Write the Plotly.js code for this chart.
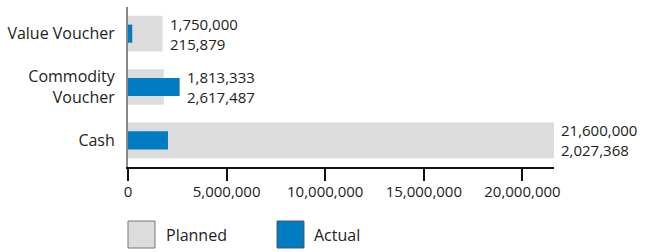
<!DOCTYPE html>
<html><head><meta charset="utf-8">
<script src="https://cdn.plot.ly/plotly-3.0.1.min.js"></script>
<style>html,body{margin:0;padding:0;background:#fff}#chart{width:645px;height:252px}</style>
</head><body><div id="chart"></div>
<script>
const categories = ["Value Voucher", "Commodity Voucher", "Cash"];
const categoryLabels = ["Value Voucher", "Commodity<br>Voucher", "Cash"];
const planned = [1750000, 1813333, 21600000];
const actual = [215879, 2617487, 2027368];
const tickVals = [0, 5000000, 10000000, 15000000, 20000000];
const tickText = ["0", "5,000,000", "10,000,000", "15,000,000", "20,000,000"];

const fmt = v => v.toLocaleString('en-US');
const FONT = "Open Sans, Noto Sans, sans-serif";
const GREY = "#dcdcdc", BLUE = "#007cc2";

const traces = [
  {type:'bar', orientation:'h', y:categories, x:planned, width:0.67,
   marker:{color:GREY}, name:'Planned', hoverinfo:'none'},
  {type:'bar', orientation:'h', y:categories, x:actual, width:0.34,
   marker:{color:BLUE}, name:'Actual', hoverinfo:'none'}
];

const annotations = categories.map((c,i)=>({
  x: Math.max(planned[i], actual[i]), y: c, xref:'x', yref:'y',
  text: fmt(planned[i]) + '<br>' + fmt(actual[i]),
  showarrow:false, xanchor:'left', yanchor:'middle', align:'left', xshift:5,
  font:{family:FONT, size:15, color:'#222'}
}));
annotations.push(
  {x:0.0845, y:-0.425, xref:'paper', yref:'paper', text:'Planned', showarrow:false,
   xanchor:'left', yanchor:'middle', font:{family:FONT, size:16, color:'#222'}},
  {x:0.432, y:-0.425, xref:'paper', yref:'paper', text:'Actual', showarrow:false,
   xanchor:'left', yanchor:'middle', font:{family:FONT, size:16, color:'#222'}}
);

const shapes = [
  {type:'rect', xref:'paper', yref:'paper', x0:0, x1:0.0634, y0:-0.50625, y1:-0.3375,
   fillcolor:GREY, line:{color:'#777', width:1}},
  {type:'rect', xref:'paper', yref:'paper', x0:0.3498, x1:0.4131, y0:-0.50625, y1:-0.3375,
   fillcolor:BLUE, line:{color:'#555', width:1}}
];

const layout = {
  width:645, height:252,
  margin:{l:128, r:91, t:7, b:85},
  barmode:'overlay', showlegend:false,
  paper_bgcolor:'#fff', plot_bgcolor:'#fff',
  font:{family:FONT, size:15, color:'#222'},
  xaxis:{range:[0, 21600000], tickvals:tickVals, ticktext:tickText,
    showgrid:false, zeroline:false, showline:true, linecolor:'#111', linewidth:2,
    ticks:'outside', ticklen:12, tickwidth:2, tickcolor:'#111', ticklabelstandoff:-2,
    tickfont:{family:FONT, size:15, color:'#222'}, fixedrange:true},
  yaxis:{type:'category', categoryarray:categories.slice().reverse(), categoryorder:'array',
    tickvals:categories, ticktext:categoryLabels,
    range:[-0.5, 2.5], showgrid:false, zeroline:false, showline:true,
    linecolor:'#888', linewidth:2, ticks:'', ticklabelstandoff:8,
    tickfont:{family:FONT, size:16, color:'#222'}, fixedrange:true},
  annotations, shapes
};

Plotly.newPlot('chart', traces, layout, {displayModeBar:false, staticPlot:true});
</script></body></html>
